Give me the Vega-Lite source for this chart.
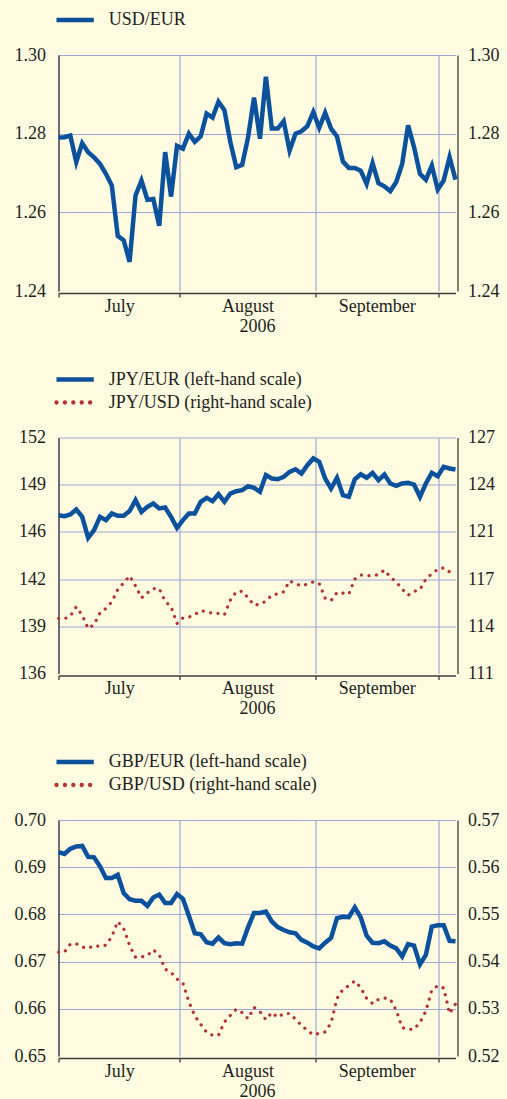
{
  "$schema": "https://vega.github.io/schema/vega-lite/v6.json",
  "padding": {"left": 13.5, "top": 11, "right": 8.5, "bottom": 2},
  "background": "#fefbe0",
  "spacing": 146.5,
  "bounds": "flush",
  "resolve": {"scale": {"color": "independent"}, "legend": {"color": "independent"}},
  "datasets": {
    "fx": [
      {"i":0,"usd":1.2790,"jpy":146.73,"jpyusd":114.73,"gbp":0.6932,"gbpusd":0.5420},
      {"i":1,"usd":1.2791,"jpy":146.67,"jpyusd":114.71,"gbp":0.6928,"gbpusd":0.5420},
      {"i":2,"usd":1.2795,"jpy":146.78,"jpyusd":114.89,"gbp":0.6939,"gbpusd":0.5437},
      {"i":3,"usd":1.2728,"jpy":147.12,"jpyusd":115.52,"gbp":0.6944,"gbpusd":0.5438},
      {"i":4,"usd":1.2776,"jpy":146.62,"jpyusd":114.95,"gbp":0.6945,"gbpusd":0.5431},
      {"i":5,"usd":1.2753,"jpy":145.20,"jpyusd":114.05,"gbp":0.6922,"gbpusd":0.5428},
      {"i":6,"usd":1.2740,"jpy":145.72,"jpyusd":114.32,"gbp":0.6921,"gbpusd":0.5434},
      {"i":7,"usd":1.2723,"jpy":146.62,"jpyusd":115.11,"gbp":0.6902,"gbpusd":0.5432},
      {"i":8,"usd":1.2698,"jpy":146.40,"jpyusd":115.41,"gbp":0.6877,"gbpusd":0.5435},
      {"i":9,"usd":1.2668,"jpy":146.85,"jpyusd":115.86,"gbp":0.6877,"gbpusd":0.5453},
      {"i":10,"usd":1.2540,"jpy":146.69,"jpyusd":116.69,"gbp":0.6884,"gbpusd":0.5485},
      {"i":11,"usd":1.2529,"jpy":146.69,"jpyusd":117.15,"gbp":0.6845,"gbpusd":0.5470},
      {"i":12,"usd":1.2474,"jpy":147.01,"jpyusd":117.62,"gbp":0.6832,"gbpusd":0.5434},
      {"i":13,"usd":1.2643,"jpy":147.75,"jpyusd":116.94,"gbp":0.6829,"gbpusd":0.5409},
      {"i":14,"usd":1.2681,"jpy":146.96,"jpyusd":116.13,"gbp":0.6829,"gbpusd":0.5410},
      {"i":15,"usd":1.2632,"jpy":147.30,"jpyusd":116.47,"gbp":0.6818,"gbpusd":0.5413},
      {"i":16,"usd":1.2634,"jpy":147.53,"jpyusd":116.76,"gbp":0.6836,"gbpusd":0.5425},
      {"i":17,"usd":1.2566,"jpy":147.19,"jpyusd":116.76,"gbp":0.6842,"gbpusd":0.5414},
      {"i":18,"usd":1.2753,"jpy":147.25,"jpyusd":115.90,"gbp":0.6824,"gbpusd":0.5384},
      {"i":19,"usd":1.2640,"jpy":146.62,"jpyusd":115.52,"gbp":0.6824,"gbpusd":0.5377},
      {"i":20,"usd":1.2769,"jpy":145.88,"jpyusd":114.39,"gbp":0.6843,"gbpusd":0.5363},
      {"i":21,"usd":1.2762,"jpy":146.40,"jpyusd":114.77,"gbp":0.6833,"gbpusd":0.5354},
      {"i":22,"usd":1.2800,"jpy":146.85,"jpyusd":114.82,"gbp":0.6797,"gbpusd":0.5315},
      {"i":23,"usd":1.2779,"jpy":146.85,"jpyusd":115.00,"gbp":0.6760,"gbpusd":0.5285},
      {"i":24,"usd":1.2793,"jpy":147.64,"jpyusd":115.25,"gbp":0.6758,"gbpusd":0.5267},
      {"i":25,"usd":1.2851,"jpy":147.91,"jpyusd":115.20,"gbp":0.6741,"gbpusd":0.5250},
      {"i":26,"usd":1.2841,"jpy":147.68,"jpyusd":115.07,"gbp":0.6738,"gbpusd":0.5244},
      {"i":27,"usd":1.2881,"jpy":148.16,"jpyusd":115.07,"gbp":0.6751,"gbpusd":0.5244},
      {"i":28,"usd":1.2860,"jpy":147.64,"jpyusd":114.98,"gbp":0.6739,"gbpusd":0.5272},
      {"i":29,"usd":1.2779,"jpy":148.20,"jpyusd":115.97,"gbp":0.6737,"gbpusd":0.5286},
      {"i":30,"usd":1.2715,"jpy":148.36,"jpyusd":116.54,"gbp":0.6739,"gbpusd":0.5299},
      {"i":31,"usd":1.2721,"jpy":148.43,"jpyusd":116.58,"gbp":0.6738,"gbpusd":0.5292},
      {"i":32,"usd":1.2791,"jpy":148.70,"jpyusd":116.13,"gbp":0.6773,"gbpusd":0.5279},
      {"i":33,"usd":1.2892,"jpy":148.59,"jpyusd":115.63,"gbp":0.6803,"gbpusd":0.5303},
      {"i":34,"usd":1.2787,"jpy":148.32,"jpyusd":115.70,"gbp":0.6803,"gbpusd":0.5294},
      {"i":35,"usd":1.2945,"jpy":149.45,"jpyusd":115.90,"gbp":0.6806,"gbpusd":0.5277},
      {"i":36,"usd":1.2813,"jpy":149.22,"jpyusd":116.31,"gbp":0.6785,"gbpusd":0.5292},
      {"i":37,"usd":1.2813,"jpy":149.17,"jpyusd":116.40,"gbp":0.6773,"gbpusd":0.5282},
      {"i":38,"usd":1.2832,"jpy":149.33,"jpyusd":116.54,"gbp":0.6767,"gbpusd":0.5290},
      {"i":39,"usd":1.2757,"jpy":149.67,"jpyusd":117.28,"gbp":0.6762,"gbpusd":0.5290},
      {"i":40,"usd":1.2800,"jpy":149.85,"jpyusd":117.08,"gbp":0.6760,"gbpusd":0.5278},
      {"i":41,"usd":1.2806,"jpy":149.56,"jpyusd":116.94,"gbp":0.6746,"gbpusd":0.5265},
      {"i":42,"usd":1.2819,"jpy":150.12,"jpyusd":117.06,"gbp":0.6740,"gbpusd":0.5254},
      {"i":43,"usd":1.2855,"jpy":150.58,"jpyusd":117.21,"gbp":0.6732,"gbpusd":0.5245},
      {"i":44,"usd":1.2815,"jpy":150.35,"jpyusd":117.10,"gbp":0.6728,"gbpusd":0.5248},
      {"i":45,"usd":1.2853,"jpy":149.22,"jpyusd":116.11,"gbp":0.6740,"gbpusd":0.5251},
      {"i":46,"usd":1.2813,"jpy":148.54,"jpyusd":115.95,"gbp":0.6750,"gbpusd":0.5270},
      {"i":47,"usd":1.2793,"jpy":149.27,"jpyusd":116.49,"gbp":0.6792,"gbpusd":0.5322},
      {"i":48,"usd":1.2729,"jpy":148.09,"jpyusd":116.45,"gbp":0.6795,"gbpusd":0.5341},
      {"i":49,"usd":1.2713,"jpy":147.98,"jpyusd":116.38,"gbp":0.6794,"gbpusd":0.5349},
      {"i":50,"usd":1.2713,"jpy":149.17,"jpyusd":117.40,"gbp":0.6815,"gbpusd":0.5359},
      {"i":51,"usd":1.2706,"jpy":149.51,"jpyusd":117.67,"gbp":0.6794,"gbpusd":0.5345},
      {"i":52,"usd":1.2672,"jpy":149.27,"jpyusd":117.64,"gbp":0.6755,"gbpusd":0.5322},
      {"i":53,"usd":1.2725,"jpy":149.60,"jpyusd":117.62,"gbp":0.6740,"gbpusd":0.5311},
      {"i":54,"usd":1.2674,"jpy":149.11,"jpyusd":117.71,"gbp":0.6739,"gbpusd":0.5320},
      {"i":55,"usd":1.2666,"jpy":149.49,"jpyusd":118.01,"gbp":0.6743,"gbpusd":0.5323},
      {"i":56,"usd":1.2654,"jpy":148.88,"jpyusd":117.53,"gbp":0.6734,"gbpusd":0.5320},
      {"i":57,"usd":1.2677,"jpy":148.72,"jpyusd":117.21,"gbp":0.6728,"gbpusd":0.5297},
      {"i":58,"usd":1.2723,"jpy":148.88,"jpyusd":116.72,"gbp":0.6711,"gbpusd":0.5260},
      {"i":59,"usd":1.2821,"jpy":148.93,"jpyusd":116.31,"gbp":0.6737,"gbpusd":0.5256},
      {"i":60,"usd":1.2766,"jpy":148.81,"jpyusd":116.56,"gbp":0.6734,"gbpusd":0.5257},
      {"i":61,"usd":1.2698,"jpy":147.98,"jpyusd":116.69,"gbp":0.6694,"gbpusd":0.5271},
      {"i":62,"usd":1.2683,"jpy":148.88,"jpyusd":117.40,"gbp":0.6714,"gbpusd":0.5295},
      {"i":63,"usd":1.2719,"jpy":149.60,"jpyusd":117.76,"gbp":0.6774,"gbpusd":0.5340},
      {"i":64,"usd":1.2658,"jpy":149.38,"jpyusd":118.07,"gbp":0.6777,"gbpusd":0.5349},
      {"i":65,"usd":1.2681,"jpy":150.01,"jpyusd":118.16,"gbp":0.6777,"gbpusd":0.5344},
      {"i":66,"usd":1.2740,"jpy":149.90,"jpyusd":117.89,"gbp":0.6744,"gbpusd":0.5290},
      {"i":67,"usd":1.2683,"jpy":149.83,"jpyusd":118.07,"gbp":0.6743,"gbpusd":0.5310}
    ]
  },
  "data": {"name": "fx"},
  "vconcat": [
    {
      "width": 397, "height": 236,
      "layer": [
        {
          "mark": {"type": "line", "strokeWidth": 4.5, "strokeJoin": "miter"},
          "encoding": {
            "x": {"field": "i", "type": "quantitative", "scale": {"domain": [0, 67], "nice": false, "zero": false},
                  "axis": {"orient": "bottom", "values": [0, 20.5, 43.3, 64.1], "labels": false, "ticks": true, "tickSize": 4, "grid": true, "offset": 2, "title": null}},
            "y": {"field": "usd", "type": "quantitative", "scale": {"domain": [1.24, 1.30], "nice": false, "zero": false},
                  "axis": {"orient": "left", "values": [1.24, 1.26, 1.28, 1.30], "format": ".2f", "ticks": false, "tickSize": 0, "labelPadding": 13, "grid": true, "title": null,
                           "gridColor": {"condition": {"test": "datum.value < 1.2401", "value": "transparent"}, "value": "#9ea8d8"}}},
            "color": {"datum": "USD/EUR", "scale": {"domain": ["USD/EUR"], "range": ["#0b519c"]},
                      "legend": {"title": null}}
          }
        },
        {
          "mark": {"type": "line", "strokeOpacity": 0},
          "encoding": {
            "x": {"field": "i", "type": "quantitative", "scale": {"domain": [0, 67], "nice": false, "zero": false},
                  "axis": {"orient": "bottom", "values": [10.25, 31.9, 53.7], "labelExpr": "datum.value < 20 ? 'July' : datum.value < 40 ? 'August' : 'September'", "ticks": false, "tickSize": 0, "domain": false, "grid": false, "offset": 2, "labelPadding": 4, "labelFlush": false, "title": "2006", "titlePadding": 2}},
            "y": {"field": "usd", "type": "quantitative", "scale": {"domain": [1.24, 1.30], "nice": false, "zero": false},
                  "axis": {"orient": "right", "values": [1.24, 1.26, 1.28, 1.30], "format": ".2f", "ticks": false, "tickSize": 0, "labelPadding": 10, "grid": false, "offset": 2, "title": null}}
          }
        }
      ],
      "resolve": {"scale": {"x": "independent", "y": "independent"}}
    },
    {
      "width": 397, "height": 236,
      "layer": [
        {
          "mark": {"type": "line", "strokeWidth": 4.5, "strokeJoin": "miter"},
          "encoding": {
            "x": {"field": "i", "type": "quantitative", "scale": {"domain": [0, 67], "nice": false, "zero": false},
                  "axis": {"orient": "bottom", "values": [0, 20.5, 43.3, 64.1], "labels": false, "ticks": true, "tickSize": 4, "grid": true, "offset": 2, "title": null}},
            "y": {"field": "jpy", "type": "quantitative", "scale": {"domain": [136, 152], "nice": false, "zero": false},
                  "axis": {"orient": "left", "values": [136, 139.2, 142.4, 145.6, 148.8, 152], "format": ".0f", "ticks": false, "tickSize": 0, "labelPadding": 13, "grid": true, "title": null,
                           "gridColor": {"condition": {"test": "datum.value < 136.01", "value": "transparent"}, "value": "#9ea8d8"}}},
            "color": {"datum": "JPY/EUR (left-hand scale)", "scale": {"domain": ["JPY/EUR (left-hand scale)", "JPY/USD (right-hand scale)"], "range": ["#0b519c", "#b23535"]},
                      "legend": {"title": null,
                        "encode": {"symbols": {"update": {
                          "strokeDash": {"signal": "indexof(datum.value, 'right-hand') >= 0 ? [0.1, 8.3] : [100, 0]"},
                          "strokeCap": {"signal": "indexof(datum.value, 'right-hand') >= 0 ? 'round' : 'butt'"}}}}}}
          }
        },
        {
          "mark": {"type": "line", "strokeWidth": 3.2, "strokeDash": [0.1, 7.4], "strokeCap": "round"},
          "encoding": {
            "x": {"field": "i", "type": "quantitative", "scale": {"domain": [0, 67], "nice": false, "zero": false},
                  "axis": {"orient": "bottom", "values": [10.25, 31.9, 53.7], "labelExpr": "datum.value < 20 ? 'July' : datum.value < 40 ? 'August' : 'September'", "ticks": false, "tickSize": 0, "domain": false, "grid": false, "offset": 2, "labelPadding": 4, "labelFlush": false, "title": "2006", "titlePadding": 2}},
            "y": {"field": "jpyusd", "type": "quantitative", "scale": {"domain": [111, 127], "nice": false, "zero": false},
                  "axis": {"orient": "right", "values": [111, 114.2, 117.4, 120.6, 123.8, 127], "format": ".0f", "ticks": false, "tickSize": 0, "labelPadding": 10, "grid": false, "offset": 2, "title": null}},
            "color": {"datum": "JPY/USD (right-hand scale)"}
          }
        }
      ],
      "resolve": {"scale": {"x": "independent", "y": "independent"}}
    },
    {
      "width": 397, "height": 236,
      "layer": [
        {
          "mark": {"type": "line", "strokeWidth": 4.5, "strokeJoin": "miter"},
          "encoding": {
            "x": {"field": "i", "type": "quantitative", "scale": {"domain": [0, 67], "nice": false, "zero": false},
                  "axis": {"orient": "bottom", "values": [0, 20.5, 43.3, 64.1], "labels": false, "ticks": true, "tickSize": 4, "grid": true, "offset": 2, "title": null}},
            "y": {"field": "gbp", "type": "quantitative", "scale": {"domain": [0.65, 0.70], "nice": false, "zero": false},
                  "axis": {"orient": "left", "values": [0.65, 0.66, 0.67, 0.68, 0.69, 0.70], "format": ".2f", "ticks": false, "tickSize": 0, "labelPadding": 13, "grid": true, "title": null,
                           "gridColor": {"condition": {"test": "datum.value < 0.6501", "value": "transparent"}, "value": "#9ea8d8"}}},
            "color": {"datum": "GBP/EUR (left-hand scale)", "scale": {"domain": ["GBP/EUR (left-hand scale)", "GBP/USD (right-hand scale)"], "range": ["#0b519c", "#b23535"]},
                      "legend": {"title": null,
                        "encode": {"symbols": {"update": {
                          "strokeDash": {"signal": "indexof(datum.value, 'right-hand') >= 0 ? [0.1, 8.3] : [100, 0]"},
                          "strokeCap": {"signal": "indexof(datum.value, 'right-hand') >= 0 ? 'round' : 'butt'"}}}}}}
          }
        },
        {
          "mark": {"type": "line", "strokeWidth": 3.2, "strokeDash": [0.1, 7.4], "strokeCap": "round"},
          "encoding": {
            "x": {"field": "i", "type": "quantitative", "scale": {"domain": [0, 67], "nice": false, "zero": false},
                  "axis": {"orient": "bottom", "values": [10.25, 31.9, 53.7], "labelExpr": "datum.value < 20 ? 'July' : datum.value < 40 ? 'August' : 'September'", "ticks": false, "tickSize": 0, "domain": false, "grid": false, "offset": 2, "labelPadding": 4, "labelFlush": false, "title": "2006", "titlePadding": 2}},
            "y": {"field": "gbpusd", "type": "quantitative", "scale": {"domain": [0.52, 0.57], "nice": false, "zero": false},
                  "axis": {"orient": "right", "values": [0.52, 0.53, 0.54, 0.55, 0.56, 0.57], "format": ".2f", "ticks": false, "tickSize": 0, "labelPadding": 10, "grid": false, "offset": 2, "title": null}},
            "color": {"datum": "GBP/USD (right-hand scale)"}
          }
        }
      ],
      "resolve": {"scale": {"x": "independent", "y": "independent"}}
    }
  ],
  "config": {
    "view": {"stroke": null},
    "font": "Liberation Serif",
    "axis": {
      "labelFont": "Liberation Serif", "labelFontSize": 18, "labelColor": "#231f20",
      "titleFont": "Liberation Serif", "titleFontSize": 18, "titleFontWeight": "normal", "titleColor": "#231f20",
      "domainColor": "#3c3c3c", "domainWidth": 1.3, "tickColor": "#3c3c3c", "tickWidth": 1.3,
      "gridColor": "#9ea8d8", "gridWidth": 1.2, "gridOpacity": 1, "labelOverlap": false
    },
    "legend": {
      "orient": "top", "direction": "vertical",
      "labelFont": "Liberation Serif", "labelFontSize": 18, "labelColor": "#231f20", "labelLimit": 400,
      "symbolType": "M-2.9,0H6.92", "symbolSize": 57.76, "symbolStrokeWidth": 4.3,
      "labelOffset": 32.3, "rowPadding": 5, "offset": 26
    }
  }
}
